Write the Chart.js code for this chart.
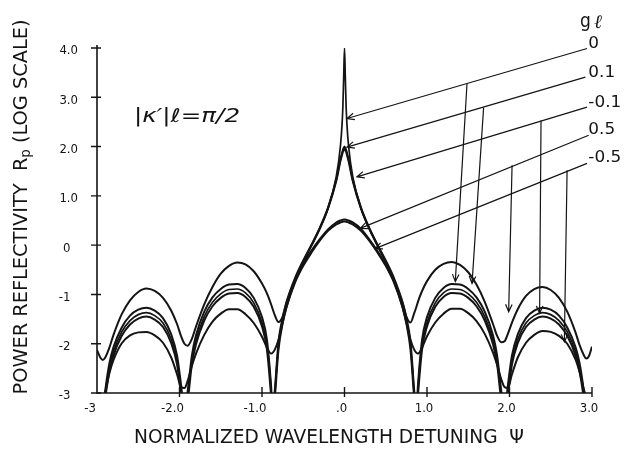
<!DOCTYPE html>
<html>
<head>
<meta charset="utf-8">
<script src="https://cdn.jsdelivr.net/npm/chart.js@4.4.1/dist/chart.umd.min.js"></script>
<style>
  html, body { margin: 0; padding: 0; background: #fff; }
  #wrap { width: 644px; height: 451px; position: relative; }
</style>
</head>
<body>
<div id="wrap"><canvas id="c" width="644" height="451"></canvas></div>
<script>
// Normalized wavelength detuning (Psi) sample points
const psi = [-3.0, -2.96, -2.93, -2.9, -2.85, -2.8, -2.7, -2.6, -2.5, -2.4, -2.3, -2.2, -2.1, -2.03, -1.98, -1.94, -1.9, -1.85, -1.8,
  -1.7, -1.6, -1.5, -1.4, -1.3, -1.2, -1.1, -1.0, -0.94, -0.89, -0.87, -0.845, -0.8, -0.75, -0.7, -0.6, -0.5, -0.4, -0.3, -0.2,
  -0.1, -0.05, -0.03, -0.02, -0.01, 0,
  0.01, 0.02, 0.03, 0.05, 0.1, 0.2, 0.3, 0.4, 0.5, 0.6, 0.7, 0.75, 0.8, 0.845, 0.87, 0.89, 0.94, 1.0, 1.1, 1.2, 1.3, 1.4, 1.5,
  1.6, 1.7, 1.8, 1.85, 1.9, 1.94, 1.98, 2.03, 2.1, 2.2, 2.3, 2.4, 2.5, 2.6, 2.7, 2.8, 2.85, 2.9, 2.93, 2.96, 3.0];

// log10 of power reflectivity for each gain value g*l
const rGain0 = [-3.34, -4, -3.67, -3.03, -2.49, -2.16, -1.76, -1.53, -1.41, -1.37, -1.43, -1.58, -1.91, -2.34, -2.98, -4, -3.10, -2.34, -1.93,
  -1.45, -1.16, -0.99, -0.90, -0.89, -0.97, -1.17, -1.57, -2.04, -2.99, -4, -3.07, -2.05, -1.53, -1.19, -0.70, -0.33, 0.00, 0.34, 0.75,
  1.39, 2.00, 2.44, 2.80, 3.40, 4.00,
  3.40, 2.80, 2.44, 2.00, 1.39, 0.75, 0.34, 0.00, -0.33, -0.70, -1.19, -1.53, -2.05, -3.07, -4, -2.99, -2.04, -1.57, -1.17, -0.97, -0.89, -0.90, -0.99,
  -1.16, -1.45, -1.93, -2.34, -3.10, -4, -2.98, -2.34, -1.91, -1.58, -1.43, -1.37, -1.41, -1.53, -1.76, -2.16, -2.49, -3.03, -3.67, -4, -3.34];

const rGainP01 = [-3.3, -3.5, -3.4, -2.95, -2.40, -2.07, -1.67, -1.43, -1.31, -1.27, -1.33, -1.48, -1.81, -2.24, -2.85, -3.4, -2.95, -2.24, -1.83,
  -1.35, -1.06, -0.89, -0.80, -0.79, -0.87, -1.07, -1.46, -1.92, -2.85, -3.4, -2.95, -1.96, -1.47, -1.14, -0.67, -0.31, 0.01, 0.35, 0.76,
  1.33, 1.74, 1.87, 1.93, 1.97, 2.00,
  1.97, 1.93, 1.87, 1.74, 1.33, 0.76, 0.35, 0.01, -0.31, -0.67, -1.14, -1.47, -1.96, -2.95, -3.4, -2.85, -1.92, -1.46, -1.07, -0.87, -0.79, -0.80, -0.89,
  -1.06, -1.35, -1.83, -2.24, -2.95, -3.4, -2.85, -2.24, -1.81, -1.48, -1.33, -1.27, -1.31, -1.43, -1.67, -2.07, -2.40, -2.95, -3.4, -3.5, -3.3];

const rGainM01 = [-3.4, -3.6, -3.5, -3.1, -2.57, -2.24, -1.84, -1.61, -1.49, -1.45, -1.51, -1.66, -1.99, -2.42, -3.05, -3.5, -3.15, -2.42, -2.01,
  -1.53, -1.24, -1.07, -0.98, -0.97, -1.05, -1.25, -1.65, -2.12, -3.05, -3.5, -3.1, -2.12, -1.59, -1.24, -0.73, -0.35, -0.01, 0.33, 0.74,
  1.30, 1.70, 1.83, 1.89, 1.93, 1.96,
  1.93, 1.89, 1.83, 1.70, 1.30, 0.74, 0.33, -0.01, -0.35, -0.73, -1.24, -1.59, -2.12, -3.1, -3.5, -3.05, -2.12, -1.65, -1.25, -1.05, -0.97, -0.98, -1.07,
  -1.24, -1.53, -2.01, -2.42, -3.15, -3.5, -3.05, -2.42, -1.99, -1.66, -1.51, -1.45, -1.49, -1.61, -1.84, -2.24, -2.57, -3.1, -3.5, -3.6, -3.4];

const rGainP05 = [-2.13, -2.28, -2.33, -2.28, -2.08, -1.82, -1.40, -1.12, -0.95, -0.88, -0.93, -1.07, -1.33, -1.60, -1.85, -2.00, -2.04, -1.90, -1.65,
  -1.20, -0.85, -0.58, -0.42, -0.35, -0.39, -0.53, -0.78, -0.98, -1.20, -1.30, -1.42, -1.56, -1.45, -1.15, -0.70, -0.38, -0.11, 0.12, 0.32,
  0.46, 0.50, 0.51, 0.515, 0.52, 0.52,
  0.52, 0.515, 0.51, 0.50, 0.46, 0.33, 0.12, -0.12, -0.40, -0.72, -1.15, -1.45, -1.57, -1.38, -1.26, -1.15, -0.93, -0.73, -0.50, -0.38, -0.34, -0.40, -0.55,
  -0.80, -1.15, -1.60, -1.84, -1.97, -1.95, -1.80, -1.57, -1.30, -1.03, -0.89, -0.85, -0.91, -1.07, -1.35, -1.77, -2.03, -2.23, -2.30, -2.26, -2.06];

const rGainM05 = [-3.6, -3.4, -3.1, -2.97, -2.60, -2.33, -1.99, -1.83, -1.77, -1.76, -1.83, -1.98, -2.28, -2.62, -2.88, -2.90, -2.75, -2.45, -2.20,
  -1.82, -1.55, -1.39, -1.30, -1.30, -1.40, -1.58, -1.86, -2.08, -2.20, -2.18, -2.12, -1.92, -1.57, -1.24, -0.76, -0.42, -0.15, 0.09, 0.29,
  0.42, 0.46, 0.47, 0.475, 0.48, 0.48,
  0.48, 0.475, 0.47, 0.46, 0.42, 0.29, 0.09, -0.15, -0.42, -0.76, -1.24, -1.57, -1.92, -2.12, -2.18, -2.20, -2.08, -1.85, -1.57, -1.39, -1.29, -1.29, -1.38,
  -1.54, -1.80, -2.18, -2.43, -2.72, -2.88, -2.90, -2.62, -2.28, -1.98, -1.82, -1.74, -1.76, -1.84, -2.00, -2.32, -2.58, -2.92, -3.1, -3.4, -3.6];

// Axis ticks and their printed labels
const xTicks = [-3, -2, -1, 0, 1, 2, 3];
const xTickLabels = ['-3', '-2.0', '-1.0', '.0', '1.0', '2.0', '3.0'];
const yTicks = [-3, -2, -1, 0, 1, 2, 3, 4];
const yTickLabels = ['-3', '-2', '-1', '0', '1.0', '2.0', '3.0', '4.0'];

// Gain labels (g*l) and the leader arrows pointing at each curve, in data units
const gainLabels = ['0', '0.1', '-0.1', '0.5', '-0.5'];
const gainLabelY = [4.07, 3.49, 2.88, 2.33, 1.76];
const leaderStart = [[2.94, 3.99], [2.92, 3.41], [2.94, 2.80], [2.96, 2.23], [2.94, 1.66]];
const leaderEnd = [[0.03, 2.57], [0.03, 1.99], [0.15, 1.385], [0.19, 0.34], [0.37, -0.07]];
const dropStart = [[1.485, 3.28], [1.686, 2.79], [2.382, 2.53], [2.031, 1.62], [2.698, 1.52]];
const dropEnd = [[1.343, -0.74], [1.546, -0.78], [2.365, -1.385], [1.99, -1.35], [2.665, -1.96]];

const series = [rGain0, rGainP01, rGainM01, rGainP05, rGainM05];
const INK = '#141414';
const NARROW = '"DejaVu Sans Condensed", "Liberation Sans Narrow", "DejaVu Sans", sans-serif';

function toPoints(ys) { return psi.map((x, i) => ({ x: x, y: ys[i] })); }

// draw a text run made of pieces, squeezed/stretched to a target width, centred on (0,0)
function drawRun(ctx, parts, targetW) {
  let total = 0;
  const widths = parts.map(p => { ctx.font = p.font; const w = ctx.measureText(p.t).width; total += w; return w; });
  const s = targetW / total;
  ctx.save();
  ctx.scale(s, 1);
  let x = -total / 2;
  parts.forEach((p, i) => {
    ctx.font = p.font;
    ctx.textAlign = 'left';
    ctx.textBaseline = 'middle';
    ctx.fillText(p.t, x, p.dy || 0);
    x += widths[i];
  });
  ctx.restore();
}

function arrow(ctx, x1, y1, x2, y2) {
  ctx.beginPath();
  ctx.moveTo(x1, y1);
  ctx.lineTo(x2, y2);
  const a = Math.atan2(y2 - y1, x2 - x1);
  const L = 8, spread = 0.42;
  ctx.moveTo(x2 - L * Math.cos(a - spread), y2 - L * Math.sin(a - spread));
  ctx.lineTo(x2, y2);
  ctx.lineTo(x2 - L * Math.cos(a + spread), y2 - L * Math.sin(a + spread));
  ctx.stroke();
}

const framePlugin = {
  id: 'frame',
  afterDatasetsDraw(chart) {
    const ctx = chart.ctx;
    const xs = chart.scales.x, ys = chart.scales.y;
    const X = v => xs.getPixelForValue(v);
    const Y = v => ys.getPixelForValue(v);
    const left = X(-3), right = X(3), top = Y(4), bottom = Y(-3);

    ctx.save();
    ctx.strokeStyle = INK;
    ctx.fillStyle = INK;
    ctx.lineCap = 'butt';

    // axes
    ctx.lineWidth = 1.6;
    ctx.beginPath();
    ctx.moveTo(left, top - 3);
    ctx.lineTo(left, bottom);
    ctx.lineTo(right, bottom);
    ctx.stroke();

    // ticks crossing the axes
    ctx.lineWidth = 1.4;
    ctx.beginPath();
    yTicks.forEach(v => { const y = Y(v); ctx.moveTo(left - 6, y); ctx.lineTo(left + 4, y); });
    xTicks.forEach(v => { if (v === -3) return; const x = X(v); ctx.moveTo(x, bottom - 6); ctx.lineTo(x, bottom + 4); });
    ctx.stroke();

    // tick labels
    ctx.font = '13px ' + NARROW;
    ctx.textBaseline = 'middle';
    yTickLabels.forEach((t, i) => {
      const y = Y(yTicks[i]) + 3;
      ctx.textAlign = 'right';
      ctx.fillText(t, t.indexOf('.') >= 0 ? left - 19 : left - 26.5, y);
    });
    xTickLabels.forEach((t, i) => {
      const x = X(xTicks[i]);
      ctx.textAlign = 'center';
      const shift = t.charAt(0) === '-' ? -7 : -3;
      ctx.fillText(t, x + shift, bottom + 16);
    });

    // axis titles
    ctx.save();
    ctx.translate(329, 438);
    drawRun(ctx, [{ t: 'NORMALIZED WAVELENGTH DETUNING  ', font: '20px ' + NARROW },
                  { t: 'Ψ', font: '20px ' + NARROW }], 390);
    ctx.restore();

    ctx.save();
    ctx.translate(22, 207);
    ctx.rotate(-Math.PI / 2);
    drawRun(ctx, [{ t: 'POWER REFLECTIVITY  R', font: '20px ' + NARROW },
                  { t: 'p', font: '14px ' + NARROW, dy: 4 },
                  { t: ' (LOG SCALE)', font: '20px ' + NARROW }], 375);
    ctx.restore();

    // coupling annotation
    ctx.save();
    ctx.translate(187, 117);
    drawRun(ctx, [{ t: '|κ′|ℓ=π/2', font: 'italic 19px "DejaVu Sans", sans-serif' }], 106);
    ctx.restore();

    // gain legend with leader arrows
    ctx.textAlign = 'left';
    ctx.textBaseline = 'middle';
    ctx.font = '19px ' + NARROW;
    ctx.fillText('g', 580, 22);
    ctx.font = 'italic 19px "DejaVu Serif", serif';
    ctx.fillText('ℓ', 594, 23);
    ctx.font = '15px ' + NARROW;
    gainLabels.forEach((t, i) => {
      ctx.save();
      ctx.translate(X(2.956), Y(gainLabelY[i]));
      ctx.scale(1.25, 1);
      ctx.fillText(t, 0, 0);
      ctx.restore();
    });
    ctx.lineWidth = 1.2;
    for (let i = 0; i < gainLabels.length; i++) {
      arrow(ctx, X(leaderStart[i][0]), Y(leaderStart[i][1]), X(leaderEnd[i][0]), Y(leaderEnd[i][1]));
      arrow(ctx, X(dropStart[i][0]), Y(dropStart[i][1]), X(dropEnd[i][0]), Y(dropEnd[i][1]));
    }
    ctx.restore();
  }
};

new Chart(document.getElementById('c'), {
  type: 'line',
  data: {
    datasets: series.map((ys, i) => ({
      label: 'gl = ' + gainLabels[i],
      data: toPoints(ys),
      borderColor: INK,
      borderWidth: i === 0 ? 1.7 : 2,
      pointRadius: 0,
      fill: false,
      cubicInterpolationMode: 'monotone'
    }))
  },
  options: {
    responsive: false,
    animation: false,
    devicePixelRatio: 1,
    layout: { padding: { left: 97, right: 52, top: 48, bottom: 58 } },
    plugins: { legend: { display: false }, tooltip: { enabled: false } },
    scales: {
      x: { type: 'linear', min: -3, max: 3, display: false },
      y: { type: 'linear', min: -3, max: 4, display: false }
    }
  },
  plugins: [framePlugin]
});
</script>
</body>
</html>
